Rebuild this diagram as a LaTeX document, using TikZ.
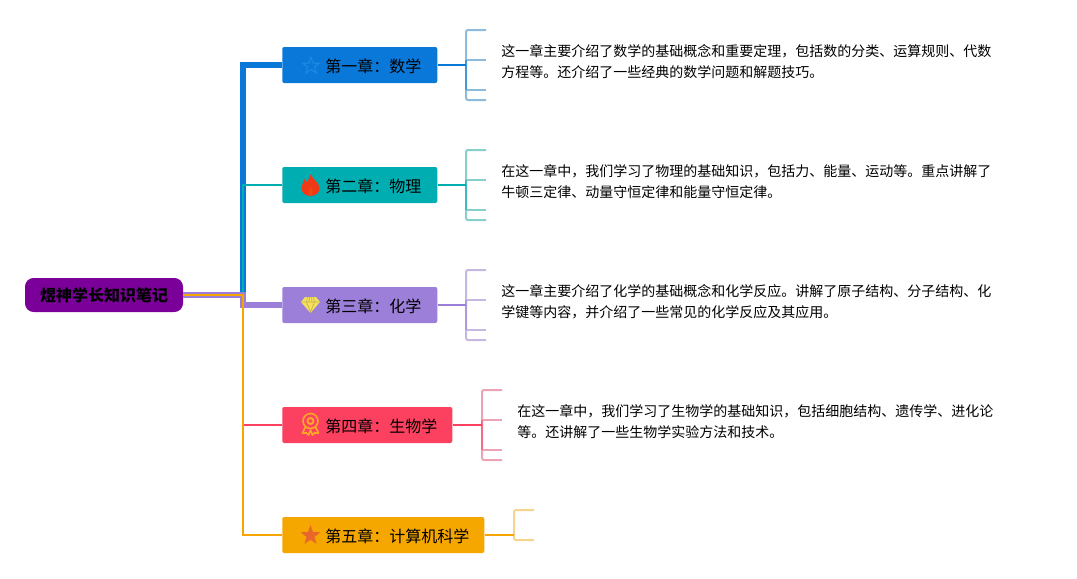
\documentclass[tikz,border=0pt]{standalone}
\usepackage{fontspec}
\setmainfont{Noto Sans CJK SC}
\usetikzlibrary{shapes.geometric}
\definecolor{cblue}{HTML}{0A78D8}
\definecolor{cteal}{HTML}{00ADB0}
\definecolor{cpurple}{HTML}{9B7FD8}
\definecolor{cpink}{HTML}{FB4060}
\definecolor{corange}{HTML}{F5A700}
\definecolor{croot}{HTML}{7B0099}
\definecolor{iblue}{HTML}{1E8AE6}
\definecolor{ired}{HTML}{F03A17}
\definecolor{iyellow}{HTML}{F2E05E}
\definecolor{idark}{HTML}{C9B34A}
\definecolor{imedal}{HTML}{FFA726}
\definecolor{istar}{HTML}{E8682B}
\definecolor{sblue}{HTML}{8DBBDC}
\definecolor{steal}{HTML}{86CFCB}
\definecolor{spurple}{HTML}{C5B9E2}
\definecolor{spink}{HTML}{EDA3B6}
\definecolor{sorange}{HTML}{F6D48E}
\tikzset{
  x=0.75pt,y=-0.75pt,
  rootbox/.style={draw=none,fill=croot,rounded corners=6.5pt,minimum width=118.5pt,minimum height=25.5pt,inner sep=0pt,font=\fontsize{12}{14}\selectfont\bfseries,text=black},
  topicbox/.style={draw=none,rounded corners=1.5pt,minimum height=27pt,inner sep=0pt,anchor=west},
  topictext/.style={anchor=west,inner sep=0pt,font=\fontsize{12}{14}\selectfont,text=black},
  bodytext/.style={anchor=west,inner sep=0pt,align=left,font=\fontsize{10.5}{15.75}\selectfont,text=black},
  trunk/.style={line join=miter},
  stub/.style={line width=1.5pt,rounded corners=1.5pt},
  junction/.style={line width=1.5pt}
}
\newcommand{\bracketfour}[6]{% node, x of bracket, centre y, stub colour, line colour, prefix
  \coordinate (#6a) at (#2+20,#3-35);
  \coordinate (#6b) at (#2+20,#3-5);
  \coordinate (#6c) at (#2+20,#3+25);
  \coordinate (#6d) at (#2+20,#3+35);
  \coordinate (#6j) at (#2,#3);
  \draw[stub,#4] (#6a) -- (#6j |- #6a) -- (#6j |- #6d) -- (#6d);
  \draw[stub,#4] (#6j |- #6b) -- (#6b);
  \draw[stub,#4] (#6j |- #6c) -- (#6c);
  \draw[junction,#5] (#1.east) -- (#6j);
  \draw[line width=1.2pt,#5,opacity=0.55] (#6j |- #6b) -- (#6j |- #6c);
}
\begin{document}
\begin{tikzpicture}
\useasboundingbox (0,0) rectangle (1077,578);
\fill[white] (0,0) rectangle (1077,578);

\node[rootbox] (root) at (104,295) {煜神学长知识笔记};
\node[topicbox,fill=cblue,minimum width=116.25pt] (t1) at (282,65) {};
\node[topicbox,fill=cteal,minimum width=116.25pt] (t2) at (282,185) {};
\node[topicbox,fill=cpurple,minimum width=116.25pt] (t3) at (282,305) {};
\node[topicbox,fill=cpink,minimum width=127.5pt] (t4) at (282,425) {};
\node[topicbox,fill=corange,minimum width=151.5pt] (t5) at (282,535) {};

\coordinate (e) at (root.east);
\coordinate (v) at (243,295);

\draw[trunk,cblue,line width=4.5pt] (e) -- (v) -- (v |- t1.west) -- (t1.west);
\draw[trunk,cteal,line width=1.8pt] (e) -- (v) -- (v |- t2.west) -- (t2.west);
\draw[trunk,cpurple,line width=4.5pt] (e) -- (v) -- (v |- t3.west) -- (t3.west);
\draw[trunk,cpink,line width=1.9pt] (e) -- (v) -- (v |- t4.west) -- (t4.west);
\draw[trunk,corange,line width=1.8pt] (e) -- (v) -- (v |- t5.west) -- (t5.west);

\bracketfour{t1}{466}{65}{sblue}{cblue}{a}
\bracketfour{t2}{466}{185}{steal}{cteal}{b}
\bracketfour{t3}{466}{305}{spurple}{cpurple}{c}
\bracketfour{t4}{482}{425}{spink}{cpink}{d}

\coordinate (ea) at (534,510);
\coordinate (eb) at (534,540);
\coordinate (ej) at (514,535);
\draw[stub,sorange] (ea) -- (ej |- ea) -- (ej |- eb) -- (eb);
\draw[junction,corange] (t5.east) -- (ej);

\node[topictext] (l1) at (325,66) {第一章：数学};
\node[topictext] (l2) at (325,186) {第二章：物理};
\node[topictext] (l3) at (325,306) {第三章：化学};
\node[topictext] (l4) at (325,426) {第四章：生物学};
\node[topictext] (l5) at (325,536) {第五章：计算机科学};

\node[bodytext] (n1) at (501,62) {这一章主要介绍了数学的基础概念和重要定理，包括数的分类、运算规则、代数\\方程等。还介绍了一些经典的数学问题和解题技巧。};
\node[bodytext] (n2) at (501,182) {在这一章中，我们学习了物理的基础知识，包括力、能量、运动等。重点讲解了\\牛顿三定律、动量守恒定律和能量守恒定律。};
\node[bodytext] (n3) at (501,302) {这一章主要介绍了化学的基础概念和化学反应。讲解了原子结构、分子结构、化\\学键等内容，并介绍了一些常见的化学反应及其应用。};
\node[bodytext] (n4) at (517,422) {在这一章中，我们学习了生物学的基础知识，包括细胞结构、遗传学、进化论\\等。还讲解了一些生物学实验方法和技术。};

% icons
\node[star,star points=5,star point ratio=2.4,draw=iblue,line width=0.8pt,minimum size=13pt,inner sep=0pt] (i1) at (311,66) {};
\begin{scope}[shift={(310.5,185)}]
\fill[ired] (0.5,-11) .. controls (1,-6) and (9,-3) .. (9,3) .. controls (9,8) and (5,11) .. (0,11) .. controls (-5,11) and (-9,8) .. (-9,3) .. controls (-9,0) and (-7,-3) .. (-6,-6) .. controls (-5,-4) and (-4,-3) .. (-3,-3) .. controls (-2,-6) and (-1,-9) .. (0.5,-11) -- cycle;
\fill[ired!80!orange] (0,11) .. controls (-3,9) and (-3,6) .. (0,2) .. controls (3,6) and (3,9) .. (0,11) -- cycle;
\end{scope}
\begin{scope}[shift={(310.5,305)}]
\fill[iyellow] (-5.5,-8) -- (5.5,-8) -- (9.5,-3) -- (0,8) -- (-9.5,-3) -- cycle;
\draw[idark,line width=0.5pt] (-9,-3) -- (9,-3) (-3,-8) -- (-4,-3) -- (0,7) -- (4,-3) -- (3,-8) (-1,-8) -- (-1.5,-3) (1,-8) -- (1.5,-3);
\end{scope}
\begin{scope}[shift={(310.5,422)}]
\draw[imedal,line width=1.2pt] (0,-1) circle (7.5);
\draw[imedal,line width=1.4pt] (0,-1) circle (3);
\draw[imedal,line width=1.3pt,line join=round] (-5,5) -- (-8,11) -- (-4,11) -- (-2,13) -- (0,8) -- (2,13) -- (4,11) -- (8,11) -- (5,5);
\end{scope}
\node[star,star points=5,star point ratio=2.4,fill=istar,minimum size=15.5pt,inner sep=0pt] (i5) at (310.5,535.5) {};
\end{tikzpicture}
\end{document}
